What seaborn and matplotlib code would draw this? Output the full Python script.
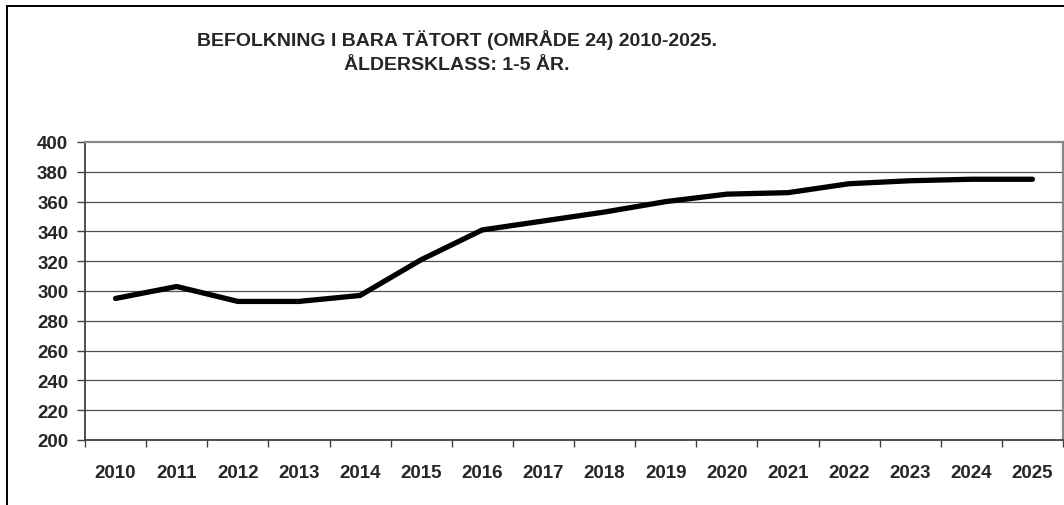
import matplotlib
matplotlib.use("Agg")
import matplotlib.pyplot as plt
import matplotlib.patches as patches
import seaborn as sns
import pandas as pd

# --- DATA ---
ar = ["2010", "2011", "2012", "2013", "2014", "2015", "2016", "2017",
      "2018", "2019", "2020", "2021", "2022", "2023", "2024", "2025"]
befolkning = [295, 303, 293, 293, 297, 321, 341, 347,
              353, 360, 365, 366, 372, 374, 375, 375]
y_ticks = [200, 220, 240, 260, 280, 300, 320, 340, 360, 380, 400]
titel_rad1 = "BEFOLKNING I BARA TÄTORT (OMRÅDE 24) 2010-2025."
titel_rad2 = "ÅLDERSKLASS: 1-5 ÅR."

sns.set_style("white")
plt.rcParams['font.family'] = ['Liberation Sans', 'DejaVu Sans']

df = pd.DataFrame({"ar": ar, "befolkning": befolkning})

fig = plt.figure(figsize=(10.64, 5.06), dpi=100)
W, H = 1064, 506
ax = fig.add_axes([85 / W, 1 - 441 / H, (1063 - 85) / W, (441 - 143) / H])

sns.lineplot(data=df, x="ar", y="befolkning", ax=ax, color="black",
             linewidth=3.8, solid_capstyle="round", solid_joinstyle="round",
             zorder=5)

ax.set_ylim(200, 400)
ax.set_xlim(-0.5, len(ar) - 0.5)
ax.set_yticks(y_ticks)
ax.set_yticklabels([str(v) for v in y_ticks], fontsize=13.5, fontweight="bold")
ax.set_xticks(range(len(ar)))
ax.set_xticklabels(ar, fontsize=13.5, fontweight="bold")
ax.set_xticks([i - 0.5 for i in range(len(ar) + 1)], minor=True)
ax.tick_params(axis="x", which="major", length=0, pad=17)
ax.tick_params(axis="x", which="minor", length=5, width=1, color="#404040",
               direction="out", bottom=True)
ax.tick_params(axis="y", which="major", length=6, width=1, color="#404040",
               direction="out", left=True, pad=6)
ax.set_xlabel("")
ax.set_ylabel("")

for v in y_ticks[1:-1]:
    ax.axhline(v, color="#505050", linewidth=0.9, zorder=1)

for s in ["left", "bottom"]:
    ax.spines[s].set_color("#404040")
    ax.spines[s].set_linewidth(1.3)
for s in ["top", "right"]:
    ax.spines[s].set_color("#888888")
    ax.spines[s].set_linewidth(1.6)

# titel i två rader, centrerad som i originalet
fig.text(457 / W, 1 - 46.5 / H, titel_rad1, ha="center", va="baseline",
         fontsize=14, fontweight="bold")
fig.text(457 / W, 1 - 70 / H, titel_rad2, ha="center", va="baseline",
         fontsize=14, fontweight="bold")

# ram runt diagrammet (bara vänster och övre kant syns)
ram = patches.Rectangle((7 / W, -0.1), 1.2, 1.1 - 7 / H,
                        transform=fig.transFigure, fill=False,
                        edgecolor="black", linewidth=1.4, clip_on=False)
fig.patches.append(ram)

fig.savefig("out.png", dpi=100)
